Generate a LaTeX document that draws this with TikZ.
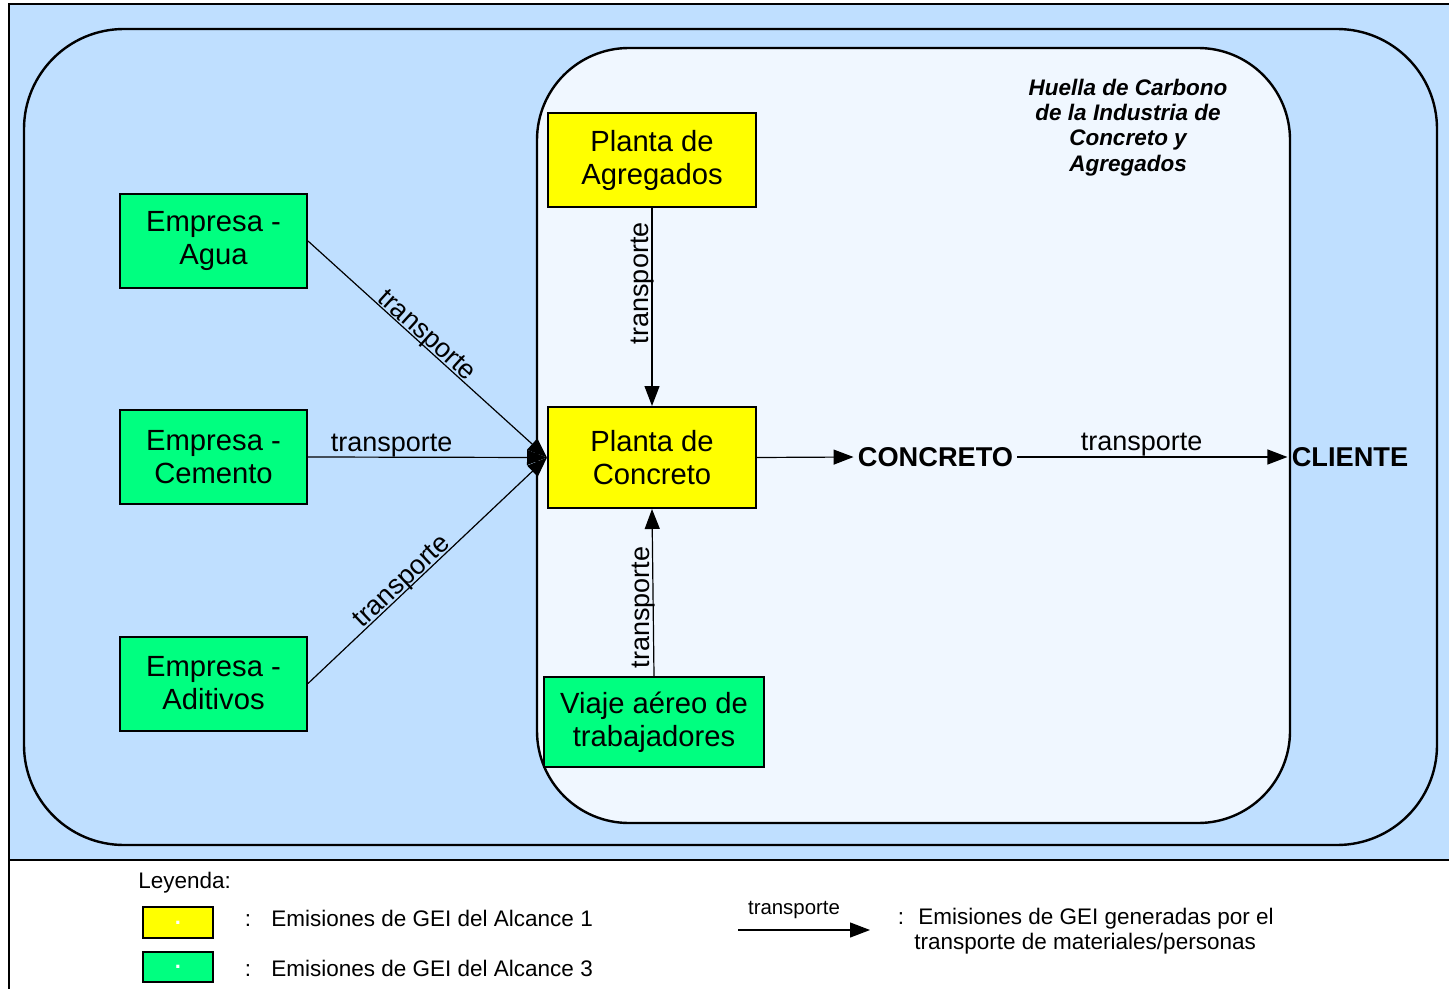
\documentclass[tikz,border=0pt]{standalone}
\usepackage{fontspec}
\setmainfont{Liberation Sans}
\usetikzlibrary{arrows.meta}
\definecolor{bgblue}{HTML}{BFDFFF}
\definecolor{inblue}{HTML}{F0F7FF}
\definecolor{ylw}{HTML}{FFFF00}
\definecolor{grn}{HTML}{00FF80}
\tikzset{
  box/.style={draw, line width=1pt, align=center, font=\fontsize{14.6}{16.5}\selectfont, inner sep=0pt},
  ybox/.style={box, fill=ylw},
  gbox/.style={box, fill=grn},
  conn/.style={line width=0.6pt, -{Triangle[length=10pt,width=7.5pt]}},
  lbl/.style={font=\fontsize{13.5}{15}\selectfont, inner sep=1pt},
  bigtxt/.style={font=\bfseries\fontsize{13.6}{15}\selectfont, inner sep=2pt},
  legtxt/.style={font=\fontsize{11.25}{12.5}\selectfont, inner sep=0pt},
  legline/.style={legtxt, text height=8.2pt, text depth=2.4pt},
  legbox/.style={draw, line width=1pt, minimum width=35pt, minimum height=15.5pt, inner sep=0pt, font=\bfseries\fontsize{11}{11}\selectfont\color{white}},
  frame/.style={line width=1.2pt}
}
\begin{document}
\begin{tikzpicture}[x=0.5pt,y=-0.5pt]
\useasboundingbox (0,0) rectangle (1449,989);
\clip (0,0) rectangle (1449,989);
\fill[white] (0,0) rectangle (1449,989);
\fill[bgblue] (9,4) rectangle (1470,860);
\draw[frame] (1470,4) -- (9,4) -- (9,1000);
\draw[frame] (9,860) -- (1470,860);
\draw[frame, rounded corners=50pt] (24,29) rectangle (1437,845);
\draw[frame, fill=inblue, rounded corners=46pt] (537,48) rectangle (1290,823);

\node[legtxt, font=\bfseries\itshape\fontsize{11.25}{12.6}\selectfont, align=center] (huella) at (1128,127.5)
  {Huella de Carbono\\de la Industria de\\Concreto y\\Agregados};

% boxes
\node[gbox, minimum width=93.5pt, minimum height=47pt] (agua) at (213.5,241) {Empresa -\\Agua};
\node[gbox, minimum width=93.5pt, minimum height=47pt] (cemento) at (213.5,457) {Empresa -\\Cemento};
\node[gbox, minimum width=93.5pt, minimum height=47pt] (aditivos) at (213.5,683.5) {Empresa -\\Aditivos};
\node[ybox, minimum width=104pt, minimum height=47pt] (agreg) at (652,160) {Planta de\\Agregados};
\node[ybox, minimum width=104pt, minimum height=50.5pt] (concreto) at (652,457.5) {Planta de\\Concreto};
\node[gbox, minimum width=110pt, minimum height=45pt] (viaje) at (654,722) {Viaje a\'ereo de\\trabajadores};
\node[bigtxt] (conc) at (935.5,457) {CONCRETO};
\node[bigtxt] (cliente) at (1350,457) {CLIENTE};

% connectors
\draw[conn] (agua.east) -- node[lbl, pos=0.47, sloped, above=-3pt] {transporte} (concreto.west);
\draw[conn] (cemento.east) -- node[lbl, pos=0.35, above, yshift=-1.5pt] {transporte} (concreto.west);
\draw[conn] (aditivos.east) -- node[lbl, pos=0.42, sloped, above=-3pt] {transporte} (concreto.west);
\draw[conn] (agreg.south) -- node[lbl, pos=0.38, rotate=90, anchor=south, yshift=-2.3pt] {transporte} (concreto.north);
\draw[conn] (viaje.north) -- node[lbl, pos=0.41, rotate=90, anchor=south, yshift=-2.3pt] {transporte} (concreto.south);
\draw[conn] (concreto.east) -- (conc.west);
\draw[conn] (conc.east) -- node[lbl, pos=0.46, above, yshift=-1pt] {transporte} (cliente.west);

% legend
\node[legline, anchor=west] (leyenda) at (138,883) {Leyenda:};
\node[legbox, fill=ylw] (ly) at (178,922.5) {.};
\node[legbox, fill=grn, minimum height=15pt] (lg) at (178,967) {.};
\node[legline] (c1) at (248,921) {:};
\node[legline, anchor=west] (t1) at (271,921) {Emisiones de GEI del Alcance 1};
\node[legline] (c2) at (248,971) {:};
\node[legline, anchor=west] (t2) at (271,971) {Emisiones de GEI del Alcance 3};
\coordinate (la1) at (738,930);
\coordinate (la2) at (870,930);
\draw[conn] (la1) -- (la2);
\node[legtxt, font=\fontsize{10.2}{11}\selectfont] (lt) at (794,910) {transporte};
\node[legline] (c3) at (901,919) {:};
\node[legtxt, anchor=north west, align=left] (t3) at (914,908) {\hspace{2pt}Emisiones de GEI generadas por el\\transporte de materiales/personas};
\end{tikzpicture}
\end{document}
